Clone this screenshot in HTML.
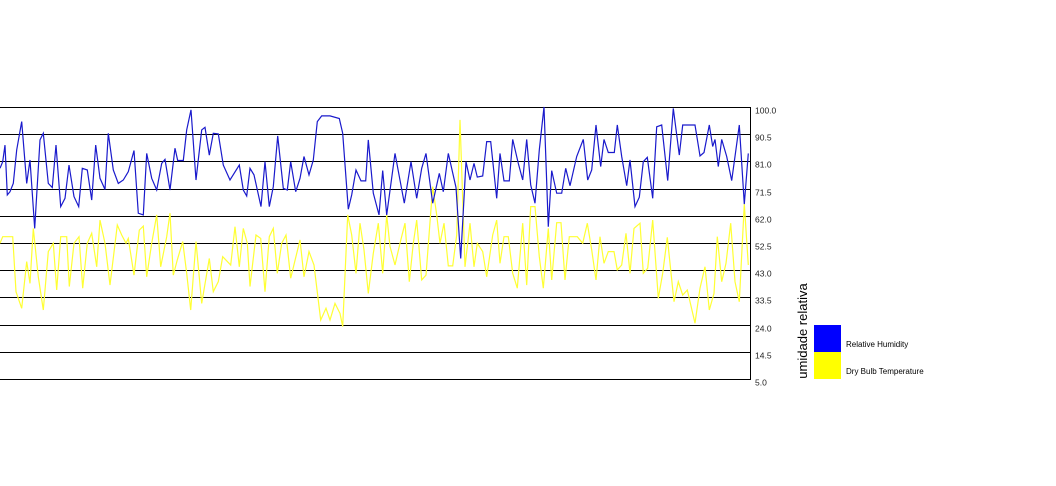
<!DOCTYPE html>
<html><head><meta charset="utf-8"><style>
body{margin:0;background:#fff;width:1056px;height:481px;overflow:hidden;font-family:"Liberation Sans",sans-serif}
</style></head><body>
<svg id="chart" width="1056" height="481" xmlns="http://www.w3.org/2000/svg">
<g id="grid"></g>
<g id="ticks"></g>
<g id="series"></g>
<line x1="750.5" y1="107" x2="750.5" y2="380" stroke="#000" stroke-width="1"/>
<text transform="translate(807,331) rotate(-90)" text-anchor="middle" font-size="13" fill="#000">umidade relativa</text>
<rect x="814" y="325" width="27" height="27" fill="#0000ff"/>
<rect x="814" y="352" width="27" height="27" fill="#ffff00"/>
<text x="846" y="347" font-size="8" fill="#000">Relative Humidity</text>
<text x="846" y="374" font-size="8" fill="#000">Dry Bulb Temperature</text>
</svg>
<script>
const yTicks=[100.0,90.5,81.0,71.5,62.0,52.5,43.0,33.5,24.0,14.5,5.0];
const humT=[0,2.7,5,7.3,10,13.3,16.7,21.7,26.7,30,34.7,40,43.3,48.3,52.3,56,60.7,65,69,74,78.7,82.3,87.3,91.7,95.7,100,105,108.3,113.3,118.3,123.3,128.3,134,138.3,143.3,146.7,151.7,156.7,161.7,165,170,175,177.7,183.3,186.7,191,196,201.7,205,209.3,213.3,218.3,223.3,230,239.3,243.3,246.7,250,254,261,265,269.3,273.3,277.7,283.3,287.3,290.7,295.7,300,304,309,313.3,317.3,321.7,330,339.3,342.7,348.3,351.7,356,361,365.7,368.3,373.3,379,382.7,386.7,395,404.3,411,416.7,421.7,426,432.7,439.3,443.3,448.3,456,460.7,466,470,474,477.3,482.7,486.7,490.7,496.7,500,504,509.3,512.7,518.3,522.7,526.7,530.7,535,539.3,544,548.3,551.7,556.7,561.7,565.7,570,576.7,583.3,587.7,591.7,596,600.7,604,608.3,614.3,617.3,621.7,626.7,630,635,639.3,643.3,647.3,652.7,656.7,661.7,667.7,673.3,679.3,682.7,695,700,704,709.3,712.7,715,718.3,721.7,726.7,731.7,739.3,744.3,748.3];
const humV=[78.6,80.9,86.7,69.3,70.4,73.3,85.0,94.9,73.3,81.5,57.6,88.5,90.8,73.3,71.9,86.7,65.2,68.1,79.7,68.7,65.2,78.6,78.0,67.5,86.7,75.1,71.2,90.8,78.0,73.3,74.5,77.4,84.8,62.9,62.3,83.8,75.1,71.0,80.3,81.7,71.0,85.6,81.3,81.3,92.0,99.0,74.5,92.0,92.9,83.2,90.8,90.6,79.7,74.5,79.7,71.0,68.9,78.6,76.3,65.2,80.9,65.2,72.2,89.9,71.6,71.0,80.9,70.4,75.1,82.7,76.3,81.5,94.9,96.9,96.9,96.0,90.8,64.3,69.3,78.0,74.2,74.2,88.5,69.9,62.3,77.8,62.3,83.8,66.4,80.9,68.1,78.6,83.8,66.4,76.8,70.4,83.8,71.9,47.1,80.9,74.5,80.3,75.5,75.9,87.9,87.9,68.1,83.8,74.2,74.2,88.7,80.3,74.5,88.7,72.8,66.4,85.0,100,58.2,77.8,69.9,69.9,78.6,72.5,82.7,88.7,74.5,78.0,93.7,79.2,88.7,84.1,84.1,93.7,82.7,72.5,81.5,65.2,68.5,80.9,82.4,68.1,93.1,93.7,74.3,99.5,83.2,93.7,93.7,82.9,84.1,93.7,86.2,88.7,79.2,88.7,82.7,74.3,93.7,66.1,83.8];
const tmpT=[0,2.7,6.7,12.7,16,21.7,26.7,30,33.3,38.3,43.3,48.3,53.3,56.7,60.7,66.7,69.3,74,79,82.7,87.3,91.7,96.7,100,105,110,117.3,121.7,126,128.3,134,139.3,143.3,146.7,151.7,156.7,160.7,166.7,170,173.3,177.3,182.7,186.7,190.7,196,201.7,209.3,213.3,218.3,222.7,230.7,235,239.3,243.3,247.3,250,256,260.7,265,269.3,273.3,277.3,281.7,286,290.7,300,304,309,314,320.7,326,330,335,340,342.7,347.7,351.7,356,360,364,368.3,373.3,378.3,382.7,386.7,390,395,400,405,409.3,413.3,416.7,421.7,426,432.7,436.7,440,444,448.3,452.7,456.7,460,465,470,474,477.3,482.7,486.7,492.7,496.7,500,504,508.3,512.7,517.3,522.7,526.7,530.7,535,539.3,543.3,548.3,551.7,556.7,561,565,569.3,577.3,582.7,587.3,591.7,596,600,604,608.3,614,617.3,621.7,626,630,634,640,643.3,647.7,652.7,658.3,662.7,667.3,674,678.3,682.7,687.3,695,700,705,709.3,714,717.3,721.7,726,730.7,735,739.3,744.3,748.3];
const tmpV=[52.4,54.7,54.7,54.7,35.5,29.7,46.0,38.4,57.6,40.7,29.1,49.5,52.4,36.1,54.7,54.7,37.3,52.4,54.7,36.7,52.4,55.9,44.2,60.5,52.4,37.8,58.8,55.3,52.4,54.1,41.3,57.0,58.4,40.7,52.4,62.3,44.2,54.7,62.9,41.3,46.6,53.0,41.9,29.1,53.0,31.4,47.1,35.5,39.0,47.7,44.8,58.2,44.2,57.6,52.4,37.3,55.3,54.1,35.5,54.7,57.6,41.9,52.4,55.3,40.2,53.6,40.7,49.5,44.8,25.6,29.7,25.6,31.4,27.9,23.3,62.3,55.3,41.9,59.4,50.1,34.9,48.9,59.4,41.9,62.3,51.3,44.8,52.4,59.4,39.0,52.4,60.5,39.6,41.3,72.2,62.3,52.4,59.4,44.5,44.5,55.3,95.5,44.2,59.4,44.2,52.4,49.5,40.7,55.3,60.5,45.4,54.7,54.7,41.9,36.7,59.4,37.8,65.2,65.2,47.7,36.7,57.6,39.6,59.6,59.6,39.6,54.7,54.7,52.4,59.4,50.1,39.6,54.7,45.4,49.5,49.5,43.1,44.8,55.9,41.9,57.6,59.4,41.9,43.7,60.5,33.2,41.9,54.5,32.0,39.0,34.3,36.1,24.5,36.7,44.2,29.1,34.9,54.7,39.0,45.4,59.4,39.0,32.0,66.1,44.8];

const NS="http://www.w3.org/2000/svg";
const X0=0,X1=750,Y0=379,Y1=107,VMIN=5,VMAX=100,TMAX=750;
function xScale(t){return X0+(t/TMAX)*(X1-X0);}
function yScale(v){return Y0-(v-VMIN)/(VMAX-VMIN)*(Y0-Y1);}
const grid=document.getElementById('grid'),ticks=document.getElementById('ticks'),series=document.getElementById('series');
yTicks.forEach(v=>{
  const y=Math.round(yScale(v))+0.5;
  const l=document.createElementNS(NS,'line');
  
  
  l.setAttribute('x1',0);l.setAttribute('x2',750);l.setAttribute('y1',y);l.setAttribute('y2',y);
  l.setAttribute('stroke','#000');l.setAttribute('stroke-width','1');
  grid.appendChild(l);
  const t=document.createElementNS(NS,'text');
  
  
  t.setAttribute('x',755);t.setAttribute('y',y+6);t.setAttribute('font-size','8.5');t.setAttribute('fill','#222');
  t.textContent=v.toFixed(1);
  ticks.appendChild(t);
});
function drawLine(ts,vs,color,name){
  const p=document.createElementNS(NS,'polyline');
  
  
  p.setAttribute('points',ts.map((t,i)=>xScale(t).toFixed(1)+','+yScale(vs[i]).toFixed(1)).join(' '));
  p.setAttribute('fill','none');p.setAttribute('stroke',color);p.setAttribute('stroke-width','1.2');
  series.appendChild(p);
}
drawLine(tmpT,tmpV,'#ffff33','dry-bulb-temperature-line');
drawLine(humT,humV,'#1a1acc','relative-humidity-line');
</script>
</body></html>
